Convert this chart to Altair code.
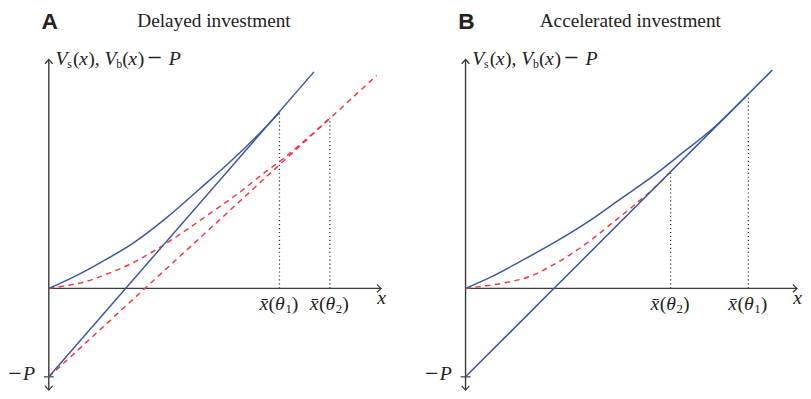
import altair as alt
import pandas as pd

# ---------------- data (units: P = 1) ----------------
P = 1.0

# Panel A: delayed investment
A_BLUE_CURVE_X = [0, 0.34, 0.58, 0.95, 1.32, 1.70, 2.07, 2.35, 2.61]
A_BLUE_CURVE_Y = [0, 0.16, 0.29, 0.51, 0.79, 1.12, 1.45, 1.72, 1.99]
A_BLUE_LINE_X = [0, 3.00]
A_BLUE_LINE_Y = [-1.0, 2.45]
A_RED_CURVE_X = [0, 0.19, 0.39, 0.65, 0.95, 1.25, 1.54, 1.84, 2.15, 2.44, 2.63, 2.88, 3.04, 3.18]
A_RED_CURVE_Y = [0, 0.03, 0.07, 0.16, 0.29, 0.46, 0.65, 0.86, 1.08, 1.31, 1.45, 1.66, 1.80, 1.93]
A_RED_LINE_X = [0, 3.71]
A_RED_LINE_Y = [-1.0, 2.41]
A_THRESH_X = [2.61, 3.18]
A_THRESH_Y = [1.99, 1.93]
A_THRESH_SUB = ["1", "2"]
A_AXIS_X_END = 3.76

# Panel B: accelerated investment
B_BLUE_CURVE_X = [0, 0.29, 0.61, 1.04, 1.41, 1.75, 2.12, 2.45, 2.82, 3.20]
B_BLUE_CURVE_Y = [0, 0.13, 0.30, 0.54, 0.77, 1.01, 1.27, 1.53, 1.83, 2.20]
B_BLUE_LINE_X = [0, 3.47]
B_BLUE_LINE_Y = [-1.0, 2.47]
B_RED_CURVE_X = [0, 0.15, 0.48, 0.74, 0.96, 1.18, 1.41, 1.66, 1.93, 2.16, 2.32]
B_RED_CURVE_Y = [0, 0.02, 0.07, 0.14, 0.25, 0.38, 0.54, 0.74, 0.96, 1.16, 1.32]
B_THRESH_X = [2.32, 3.20]
B_THRESH_Y = [1.32, 2.20]
B_THRESH_SUB = ["2", "1"]
B_AXIS_X_END = 3.75

Y_AXIS_TOP = 2.59
Y_AXIS_BOTTOM = -1.15

PANEL_TITLES = ["Delayed investment", "Accelerated investment"]
PANEL_LETTERS = ["A", "B"]

# ---------------- style ----------------
BLUE = "#3b58a6"
RED = "#f2393f"
AXIS = "#3a3a3a"
TEXT = "#222222"
SERIF = "Liberation Serif"
SANS = "Liberation Sans"
CHEVRON = "M-1.1,-1L0,0L-1.1,1"
DASH = [5.5, 4.5]

H = 390
PX_PER_UNIT = 89.5
Y_DOM = [-1.2123, 3.1453]
TICK_HALF = 0.056

dummy = pd.DataFrame({"k": [0]})


def panel(blue_cx, blue_cy, blue_lx, blue_ly, red_cx, red_cy, red_lx, red_ly,
          th_x, th_y, th_sub, x_end, width, left_px, letter, title):
    x_min = -left_px / PX_PER_UNIT
    x_max = (width - left_px) / PX_PER_UNIT
    sx = alt.Scale(domain=[x_min, x_max], nice=False, zero=False)
    sy = alt.Scale(domain=Y_DOM, nice=False, zero=False)

    def X(f):
        return alt.X(f, type="quantitative", scale=sx, axis=None)

    def Y(f):
        return alt.Y(f, type="quantitative", scale=sy, axis=None)

    def XD(v):
        return alt.XDatum(v, type="quantitative", scale=sx, axis=None)

    def YD(v):
        return alt.YDatum(v, type="quantitative", scale=sy, axis=None)

    base = alt.Chart(dummy)

    def piece(text, x, y, dx, dy, size=19, italic=False, bold=False, font=SERIF, align="left"):
        return base.mark_text(
            text=text, dx=dx, dy=dy, fontSize=size,
            fontStyle="italic" if italic else "normal",
            fontWeight="bold" if bold else "normal",
            font=font, align=align, baseline="alphabetic", color=TEXT,
        ).encode(x=XD(x), y=YD(y))

    layers = []
    # axes
    layers.append(base.mark_rule(color=AXIS, strokeWidth=1.4).encode(
        x=XD(0), x2=alt.X2Datum(x_end), y=YD(0)))
    layers.append(base.mark_rule(color=AXIS, strokeWidth=1.4).encode(
        x=XD(0), y=YD(Y_AXIS_BOTTOM), y2=alt.Y2Datum(Y_AXIS_TOP)))
    layers.append(base.mark_rule(color=AXIS, strokeWidth=1.2).encode(
        x=XD(-TICK_HALF), x2=alt.X2Datum(TICK_HALF), y=YD(-P)))
    for (ax, ay, ang) in [(x_end, 0, 0), (0, Y_AXIS_TOP, 270), (0, Y_AXIS_BOTTOM, 90)]:
        layers.append(base.mark_point(shape=CHEVRON, filled=False, size=60, strokeWidth=1.3,
                                      color=AXIS, angle=ang, opacity=1).encode(x=XD(ax), y=YD(ay)))

    # threshold dotted lines
    th = pd.DataFrame({"x": th_x, "top": th_y, "sub": th_sub, "zero": [0] * len(th_x)})
    layers.append(alt.Chart(th).mark_rule(color="#333333", strokeWidth=1.3, strokeDash=[1.2, 2.8]).encode(
        x=X("x"), y=Y("zero"), y2="top:Q"))

    # curves and lines
    def line(xs, ys, color, dash=None):
        df = pd.DataFrame({"x": xs, "y": ys})
        kw = dict(color=color, strokeWidth=1.5, interpolate="monotone")
        if dash:
            kw["strokeDash"] = dash
        return alt.Chart(df).mark_line(**kw).encode(x=X("x"), y=Y("y"))

    layers.append(line(red_cx, red_cy, RED, DASH))
    if red_lx is not None:
        layers.append(line(red_lx, red_ly, RED, DASH))
    layers.append(line(blue_cx, blue_cy, BLUE))
    layers.append(line(blue_lx, blue_ly, BLUE))

    # threshold labels  x̄(θi)
    thb = alt.Chart(th)
    lab_dy = 21.5
    for (txt, dx, dy, size, it) in [("x\u0304", -20.3, lab_dy, 20, True),
                                    ("(", -11, lab_dy, 20, False),
                                    ("\u03b8", -4.5, lab_dy, 20, True),
                                    (")", 12.5, lab_dy, 20, False)]:
        layers.append(thb.mark_text(text=txt, dx=dx, dy=dy, fontSize=size, font=SERIF,
                                    fontStyle="italic" if it else "normal", align="left",
                                    baseline="alphabetic", color=TEXT).encode(x=X("x"), y=YD(0)))
    layers.append(thb.mark_text(dx=6, dy=lab_dy + 3.5, fontSize=13, font=SERIF, align="left",
                                baseline="alphabetic", color=TEXT).encode(
        x=X("x"), y=YD(0), text="sub:N"))

    # axis labels
    layers.append(piece("x", x_end, 0, -3.8, 15.5, size=20, italic=True))
    layers.append(piece("\u2212", 0, -P, -41, 4, size=24))
    layers.append(piece("P", 0, -P, -26, 3, size=20, italic=True))

    # y label  V_s(x), V_b(x) − P
    yl = [("V", 6.7, 0, 20, True), ("s", 18.6, 3.6, 12, False), ("(", 24.5, 0, 20, False),
          ("x", 30.5, 0, 20, True), ("),", 40, 0, 20, False), ("V", 56.5, 0, 20, True),
          ("b", 68.4, 3.6, 12, False), ("(", 74.5, 0, 20, False), ("x", 80.5, 0, 20, True),
          (")", 90, 0, 20, False), ("\u2212", 100, 1, 26, False), ("P", 121.5, 0, 20, True)]
    for (txt, dx, ddy, size, it) in yl:
        layers.append(piece(txt, 0, Y_AXIS_TOP, dx, 5.3 + ddy, size=size, italic=it))

    # panel letter and title
    layers.append(piece(letter, 0, Y_AXIS_TOP, 1, -31, size=23, bold=True, font=SANS, align="center"))
    layers.append(piece(title, x_end / 2, Y_AXIS_TOP, -1, -33, size=19.5, align="center"))

    return alt.layer(*layers).properties(width=width, height=H)


pa = panel(A_BLUE_CURVE_X, A_BLUE_CURVE_Y, A_BLUE_LINE_X, A_BLUE_LINE_Y,
           A_RED_CURVE_X, A_RED_CURVE_Y, A_RED_LINE_X, A_RED_LINE_Y,
           A_THRESH_X, A_THRESH_Y, A_THRESH_SUB, A_AXIS_X_END,
           419, 40.3, PANEL_LETTERS[0], PANEL_TITLES[0])
pb = panel(B_BLUE_CURVE_X, B_BLUE_CURVE_Y, B_BLUE_LINE_X, B_BLUE_LINE_Y,
           B_RED_CURVE_X, B_RED_CURVE_Y, None, None,
           B_THRESH_X, B_THRESH_Y, B_THRESH_SUB, B_AXIS_X_END,
           383, 43.3, PANEL_LETTERS[1], PANEL_TITLES[1])

chart = alt.hconcat(pa, pb, spacing=0).properties(
    padding=0, background="white"
).configure_view(stroke=None)

chart.save("out.html", embed_options={"renderer": "svg", "actions": False})
